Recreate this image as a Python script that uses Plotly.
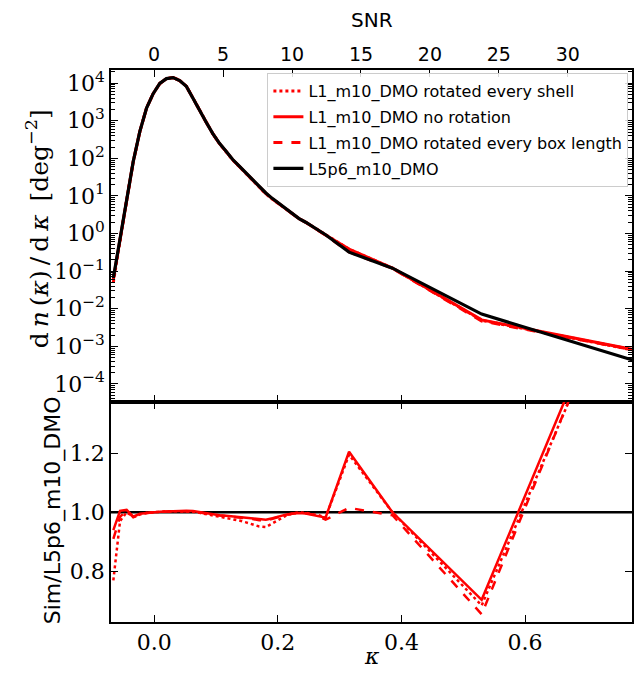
import plotly.graph_objects as go

# ---------------- data ----------------
kappa = [-0.0660, -0.0552, -0.0445, -0.0338, -0.0231, -0.0123, -0.0016, 0.0091,
         0.0199, 0.0306, 0.0413, 0.0520, 0.0628, 0.0735, 0.0842, 0.0949,
         0.1057, 0.1164, 0.1271, 0.1378, 0.1486, 0.1593, 0.1700, 0.1807,
         0.1915, 0.2022, 0.2129, 0.2236, 0.2344, 0.2451, 0.2558, 0.2665,
         0.2773, 0.3153, 0.3855, 0.5298, 0.7784]

# L5p6_m10_DMO  dn/dkappa [deg^-2]
pdf_L5p6 = [0.066, 0.71, 7.7, 83, 525, 2190, 5250, 9800,
            13200, 14100, 11700, 8300, 3980, 1860, 910, 457,
            251, 155, 93, 62, 41, 27.5, 18.2, 12.0,
            8.5, 6.3, 4.6, 3.4, 2.5, 2.0, 1.55, 1.20,
            0.93, 0.32, 0.120, 0.0072, 0.00041]

# Sim / L5p6_m10_DMO ratios
ratio_shell = [0.77, 0.97, 1.00, 0.985, 0.992, 0.998, 1.000, 1.002,
               1.003, 1.004, 1.003, 1.003, 1.002, 0.998, 0.994, 0.990,
               0.985, 0.982, 0.978, 0.972, 0.966, 0.958, 0.952, 0.950,
               0.962, 0.976, 0.988, 0.996, 1.000, 0.998, 0.994, 0.990,
               0.982, 1.195, 1.000, 0.685, 1.90]
ratio_norot = [0.94, 1.005, 1.008, 0.985, 0.995, 0.998, 1.000, 1.002,
               1.003, 1.004, 1.004, 1.005, 1.004, 1.000, 0.996, 0.993,
               0.990, 0.988, 0.986, 0.984, 0.982, 0.979, 0.976, 0.975,
               0.980, 0.987, 0.992, 0.996, 0.998, 0.996, 0.992, 0.988,
               0.982, 1.205, 1.000, 0.704, 1.95]
ratio_box = [0.91, 0.985, 1.006, 0.983, 0.993, 0.998, 1.000, 1.002,
             1.003, 1.004, 1.004, 1.004, 1.003, 0.999, 0.995, 0.992,
             0.989, 0.987, 0.985, 0.983, 0.980, 0.977, 0.973, 0.972,
             0.978, 0.985, 0.991, 0.995, 0.998, 0.997, 0.993, 0.985,
             0.975, 1.015, 0.990, 0.655, 1.93]

names = ["L1_m10_DMO rotated every shell",
         "L1_m10_DMO no rotation",
         "L1_m10_DMO rotated every box length",
         "L5p6_m10_DMO"]

kappa_ticks = [0.0, 0.2, 0.4, 0.6]
kappa_ticktext = ["0.0", "0.2", "0.4", "0.6"]
snr_ticks = [0, 5, 10, 15, 20, 25, 30]
snr_per_kappa = 44.83
pdf_ticks = [1e-4, 1e-3, 1e-2, 1e-1, 1e0, 1e1, 1e2, 1e3, 1e4]
pdf_ticktext = ["10<sup>−4</sup>", "10<sup>−3</sup>", "10<sup>−2</sup>", "10<sup>−1</sup>",
                "10<sup>0</sup>", "10<sup>1</sup>", "10<sup>2</sup>", "10<sup>3</sup>", "10<sup>4</sup>"]
ratio_ticks = [0.8, 1.0, 1.2]
ratio_ticktext = ["0.8", "1.0", "1.2"]

x_range = [-0.0698, 0.773]
y_top_log_range = [-4.48, 4.35]
y_bot_range = [0.629, 1.373]

# ---------------- figure ----------------
RED = "#ff0000"
SERIF = "DejaVu Serif"
SANS = "DejaVu Sans"

fig = go.Figure()
styles = [(ratio_shell, "dot"), (ratio_norot, "solid"), (ratio_box, "dash")]
for i, (ratio, dash) in enumerate(styles):
    pdf_sim = [b * r for b, r in zip(pdf_L5p6, ratio)]
    fig.add_trace(go.Scatter(x=kappa, y=pdf_sim, mode="lines", name=names[i],
                             line=dict(color=RED, width=3, dash=dash),
                             legendgroup=names[i], legendrank=i + 1,
                             xaxis="x", yaxis="y", hoverinfo="skip"))
    fig.add_trace(go.Scatter(x=kappa, y=ratio, mode="lines", showlegend=False,
                             line=dict(color=RED, width=2.5, dash=dash),
                             xaxis="x2", yaxis="y2", hoverinfo="skip"))

fig.add_trace(go.Scatter(x=kappa, y=pdf_L5p6, mode="lines", name=names[3],
                         line=dict(color="black", width=3.2),
                         legendgroup=names[3], legendrank=4,
                         xaxis="x", yaxis="y", hoverinfo="skip"))
# invisible trace carrying the SNR (top) axis
fig.add_trace(go.Scatter(x=[k * snr_per_kappa for k in kappa], y=pdf_L5p6, mode="lines",
                         line=dict(color="rgba(0,0,0,0)", width=0), showlegend=False,
                         xaxis="x3", yaxis="y", hoverinfo="skip"))

fig.add_shape(type="line", xref="x2 domain", yref="y2", x0=0, x1=1, y0=1.0, y1=1.0,
              line=dict(color="black", width=2.5), layer="below")

axis_common = dict(showline=True, linecolor="black", linewidth=1.5, showgrid=False,
                   zeroline=False, ticks="inside", tickcolor="black", tickwidth=1.3,
                   ticklen=7)
top_domain = [(622 - 402) / 552, 1.0]
bot_domain = [0.0, (622 - 402) / 552]
TICKSERIF = dict(family=SERIF, size=22, color="black")

thin = "\u2009"
ylab_top = ("d" + thin + "<i>n</i>" + thin + "(<i>κ</i>)" + thin + "/" + thin + "d" + thin
            + "<i>κ</i>" + thin + " [deg<sup>−2</sup>]")

fig.update_layout(
    width=635, height=673,
    margin=dict(l=111, r=1, t=70, b=51),
    paper_bgcolor="white", plot_bgcolor="white",
    showlegend=True,
    xaxis=dict(domain=[0, 1], anchor="y", range=x_range, tickvals=kappa_ticks,
               showticklabels=False, **axis_common),
    xaxis3=dict(overlaying="x", side="top", anchor="y",
                range=[x_range[0] * snr_per_kappa, x_range[1] * snr_per_kappa],
                tickvals=snr_ticks, ticktext=[str(v) for v in snr_ticks],
                tickfont=dict(family=SANS, size=19, color="black"), **axis_common),
    xaxis2=dict(domain=[0, 1], anchor="y2", range=x_range, tickvals=kappa_ticks,
                ticktext=kappa_ticktext, mirror="ticks",
                tickfont=TICKSERIF, **axis_common),
    yaxis=dict(domain=top_domain, anchor="x", type="log", range=y_top_log_range,
               tickvals=pdf_ticks, ticktext=pdf_ticktext, mirror="ticks",
               tickfont=TICKSERIF,
               minor=dict(dtick="D1", ticks="inside", ticklen=4, tickcolor="black",
                          tickwidth=1.1, showgrid=False),
               **axis_common),
    yaxis2=dict(domain=bot_domain, anchor="x2", range=y_bot_range,
                tickvals=ratio_ticks, ticktext=ratio_ticktext, mirror="ticks",
                tickfont=TICKSERIF, **axis_common),
    legend=dict(x=(268 - 111) / 523, y=(622 - 73) / 552, xanchor="left", yanchor="top",
                font=dict(family=SANS, size=16, color="black"),
                bgcolor="rgba(255,255,255,0.85)", bordercolor="#cccccc", borderwidth=1,
                tracegroupgap=2, itemwidth=30),
    annotations=[
        dict(text="SNR", xref="paper", yref="paper", x=0.5, y=(622 - 20) / 552,
             showarrow=False, font=dict(family=SANS, size=20, color="black"),
             xanchor="center", yanchor="middle"),
        dict(text="<i>κ</i>", xref="paper", yref="paper", x=0.5, y=(622 - 656) / 552,
             showarrow=False, font=dict(family=SERIF, size=22, color="black"),
             xanchor="center", yanchor="middle"),
        dict(text=ylab_top, xref="paper", yref="paper",
             x=(38 - 111) / 523, y=(622 - 229) / 552, textangle=-90,
             showarrow=False, font=dict(family=SERIF, size=25, color="black"),
             xanchor="center", yanchor="middle"),
        dict(text="Sim/L5p6_m10_DMO", xref="paper", yref="paper",
             x=(53 - 111) / 523, y=(622 - 510) / 552, textangle=-90,
             showarrow=False, font=dict(family=SANS, size=22, color="black"),
             xanchor="center", yanchor="middle"),
    ],
)

fig.write_html("out.html")
